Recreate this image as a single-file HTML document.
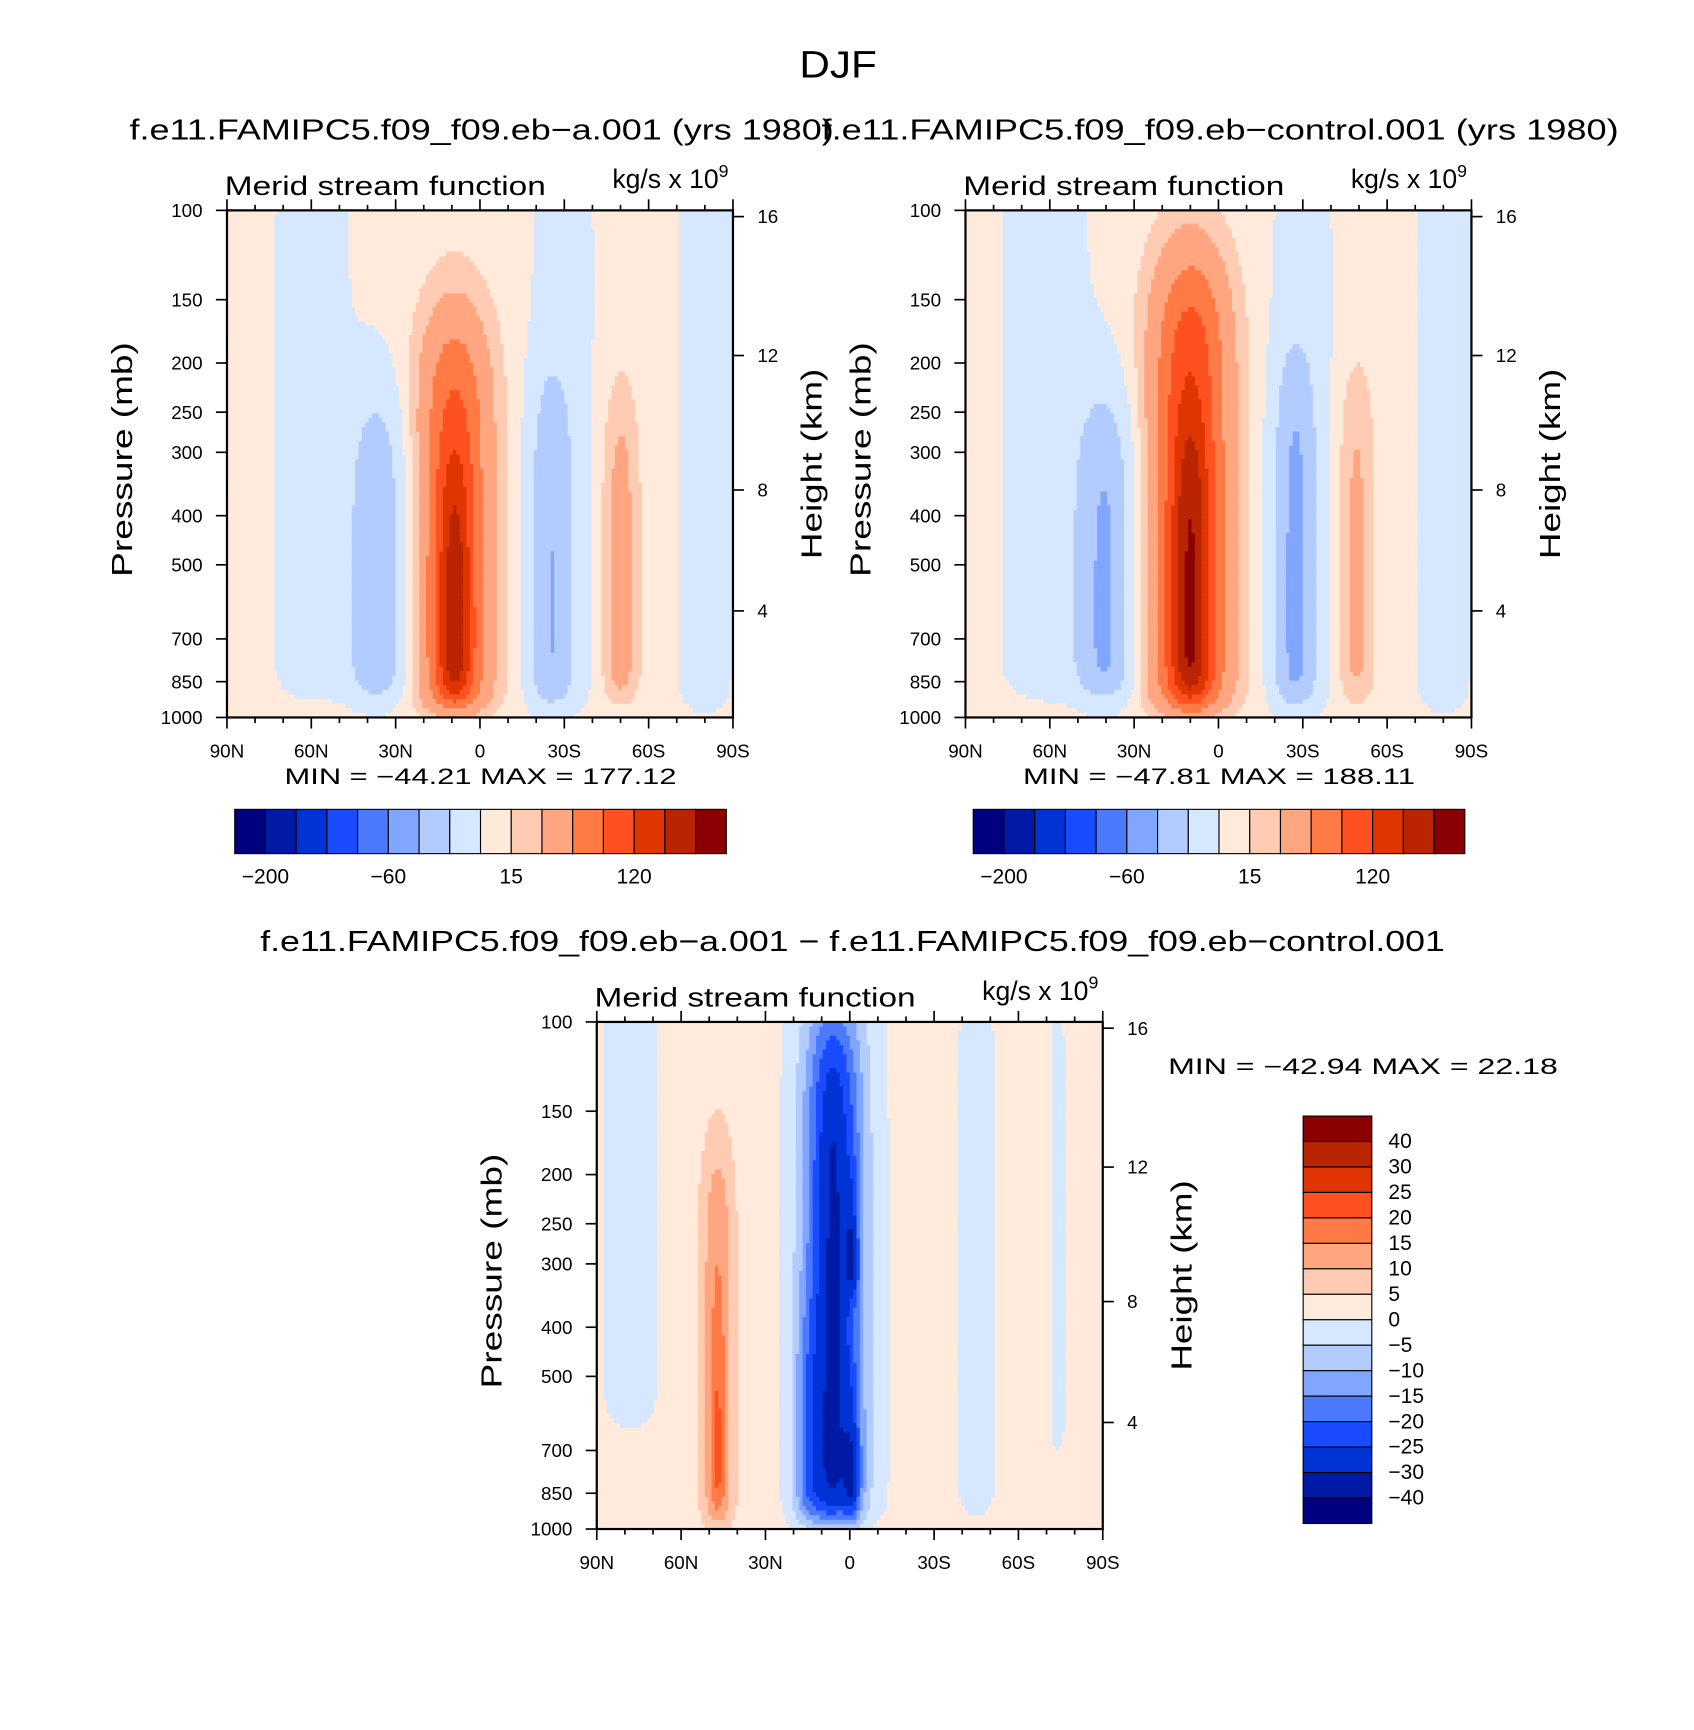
<!DOCTYPE html>
<html><head><meta charset="utf-8"><style>
html,body{margin:0;padding:0;background:#fff}
svg text{font-family:"Liberation Sans",sans-serif;fill:#000}
</style></head><body>
<svg id="fig" width="1694" height="1725" viewBox="0 0 1530 1558" xmlns="http://www.w3.org/2000/svg">
<text x="757" y="70" font-size="34" text-anchor="middle" textLength="70" lengthAdjust="spacingAndGlyphs">DJF</text>
<text x="117" y="126" font-size="26" textLength="636" lengthAdjust="spacingAndGlyphs">f.e11.FAMIPC5.f09_f09.eb−a.001 (yrs 1980)</text>
<text x="742" y="126" font-size="26" textLength="720" lengthAdjust="spacingAndGlyphs">f.e11.FAMIPC5.f09_f09.eb−control.001 (yrs 1980)</text>
<text x="235" y="859" font-size="26" textLength="1070" lengthAdjust="spacingAndGlyphs">f.e11.FAMIPC5.f09_f09.eb−a.001 − f.e11.FAMIPC5.f09_f09.eb−control.001</text>
<g id="root"></g>
</svg>
<script>
// ---- data ----
const absLevels = [-200,-150,-100,-80,-60,-40,-20,0,15,30,60,90,120,150,180];
const absLabels = ["-200","-60","15","120"];
const absLabelIdx = [1,5,9,13];
const diffLevels = [-40,-30,-25,-20,-15,-10,-5,0,5,10,15,20,25,30,40];
const diffLabels = ["40","30","25","20","15","10","5","0","−5","−10","−15","−20","−25","−30","−40"];
const colors = ["#000080","#001aa6","#0033d6","#1a4cff","#4c7aff","#80a6ff","#b3ccff","#d6e8ff","#ffeadb","#ffccb3","#ffa680","#ff7a45","#ff5020","#e03500","#b82500","#8b0000"];
const pTicks = [100,150,200,250,300,400,500,700,850,1000];
const latTicks = [90,60,30,0,-30,-60,-90];
const latTickLabels = ["90N","60N","30N","0","30S","60S","90S"];
const hTicks = [16,12,8,4];
// blobs: [lat center, lat halfwidth, top p, bottom p, amplitude]
const tlBase = 5;
const tlBlobs = [[9,13,170,960,92],[9,6,330,900,75],[36,11,240,910,-44],[60,13,70,900,-14],[-25,8,220,940,-36],[-30,12,70,940,-11],[-50,6.5,240,910,36],[-80,10,60,960,-13]];
const trBase = 5;
const trBlobs = [[10,14,130,960,110],[10,6.5,280,900,72],[40,11,240,910,-48],[62,15,60,900,-14],[-27,8,200,940,-40],[-30,12,70,940,-11],[-49,6.5,220,910,30],[-80,10,60,960,-13]];
const dfBase = 2;
const dfBlobs = [[6,10,100,960,-27],[-1,2.5,230,340,-14],[-1,3,600,950,-14],[15,5,380,950,-8],[5,16,70,960,-6],[47,6,180,970,13],[47,2.5,450,900,7],[78,10,60,620,-5],[-45,7,80,930,-5],[-74,3,80,700,-4],[-33,2,480,650,4]];
const tlStats = "MIN = −44.21   MAX = 177.12";
const trStats = "MIN = −47.81   MAX = 188.11";
const dfStats = "MIN = −42.94   MAX =  22.18";

const NS="http://www.w3.org/2000/svg";
const root=document.getElementById('root');
function mk(tag,attrs,parent){const e=document.createElementNS(NS,tag);for(const k in attrs)e.setAttribute(k,attrs[k]);(parent||root).appendChild(e);return e;}
function sig(x){return 1/(1+Math.exp(-x));}
function field(base,blobs,lat,p){
  const lp=Math.log10(p);let v=base;
  for(const b of blobs){const d=(lat-b[0])/b[1];
    v+=b[4]*Math.exp(-d*d)*sig((lp-Math.log10(b[2]))/0.07)*sig((Math.log10(b[3])-lp)/0.02);}
  return v;}
function zToP(z){z*=1000;if(z<=11000)return 1013.25*Math.pow(1-2.25577e-5*z,5.25588);return 226.32*Math.exp(-(z-11000)/6341.6);}

function panel(name,x0,y0,base,blobs,levels){
  const W=457,H=458;
  const xs=lat=>x0+(90-lat)/180*W;
  const ys=p=>y0+(Math.log10(p)-2)*H;
  const g=mk('g',{});
  
  
  const nx=150,ny=110;
  for(let j=0;j<ny;j++){
    const lp0=2+j/ny,lp1=2+(j+1)/ny,pm=Math.pow(10,(lp0+lp1)/2);
    let run=null,start=0;
    for(let i=0;i<=nx;i++){
      let c=null;
      if(i<nx){const lat=90-(i+0.5)*180/nx;const v=field(base,blobs,lat,pm);let k=0;while(k<levels.length&&v>=levels[k])k++;c=colors[k];}
      if(c!==run){
        if(run!==null){const la=90-start*180/nx,lb=90-i*180/nx;
          mk('rect',{x:xs(la),y:ys(Math.pow(10,lp0)),width:xs(lb)-xs(la)+0.6,height:ys(Math.pow(10,lp1))-ys(Math.pow(10,lp0))+0.6,fill:run},g);}
        run=c;start=i;}
    }
  }
  const f=mk('rect',{x:x0,y:y0,width:W,height:H,fill:'none',stroke:'#000','stroke-width':2});
  
  
  const ax=mk('g',{stroke:'#000','stroke-width':1.5});
  
  
  pTicks.forEach(p=>{const y=ys(p);mk('line',{x1:x0-10,x2:x0,y1:y,y2:y},ax);
    const t=mk('text',{x:x0-22,y:y+6,'font-size':17,'text-anchor':'end',stroke:'none'},ax);t.textContent=p;
    
    });
  for(let l=90;l>=-90;l-=10){const x=xs(l);const maj=l%30===0;mk('line',{x1:x,x2:x,y1:y0+H,y2:y0+H+(maj?10:5)},ax);mk('line',{x1:x,x2:x,y1:y0,y2:y0-(maj?10:5)},ax);}
  latTicks.forEach((l,i)=>{const t=mk('text',{x:xs(l),y:y0+H+36,'font-size':17,'text-anchor':'middle',stroke:'none'},ax);t.textContent=latTickLabels[i];
    
    });
  hTicks.forEach(z=>{const y=ys(zToP(z));mk('line',{x1:x0+W,x2:x0+W+10,y1:y,y2:y},ax);
    const t=mk('text',{x:x0+W+22,y:y+6,'font-size':17,stroke:'none'},ax);t.textContent=z;
    
    });
  let t=mk('text',{x:0,y:0,'font-size':26,'text-anchor':'middle',textLength:212,lengthAdjust:'spacingAndGlyphs',transform:`translate(${x0-86},${y0+H/2-4}) rotate(-90)`});t.textContent='Pressure (mb)';
  
  
  t=mk('text',{x:0,y:0,'font-size':26,'text-anchor':'middle',textLength:172,lengthAdjust:'spacingAndGlyphs',transform:`translate(${x0+W+80},${y0+H/2}) rotate(-90)`});t.textContent='Height (km)';
  
  
  t=mk('text',{x:x0-2,y:y0-14,'font-size':24,textLength:290,lengthAdjust:'spacingAndGlyphs'});t.textContent='Merid stream function';
  
  
  t=mk('text',{x:x0+W-4,y:y0-20,'font-size':24,'text-anchor':'end'});t.innerHTML='kg/s  x  10<tspan font-size="16" dy="-10">9</tspan>';
  
  
}
function hbar(name,x0,y0,stats){
  const g=mk('g',{});
  
  
  const w=444/16;
  colors.forEach((c,i)=>mk('rect',{x:x0+i*w,y:y0,width:w,height:40,fill:c,stroke:'#000','stroke-width':1},g));
  absLabels.forEach((s,i)=>{const t=mk('text',{x:x0+absLabelIdx[i]*w,y:y0+67,'font-size':19,'text-anchor':'middle'},g);t.textContent=s.replace('-','−');});
  const t=mk('text',{x:x0+45,y:y0-23,'font-size':20,textLength:354,lengthAdjust:'spacingAndGlyphs'});t.textContent=stats;
  
  
}
panel('left-panel',205,190,tlBase,tlBlobs,absLevels);
panel('right-panel',872,190,trBase,trBlobs,absLevels);
panel('diff-panel',539,923,dfBase,dfBlobs,diffLevels);
hbar('left-colorbar',212,731,tlStats);
hbar('right-colorbar',879,731,trStats);
const vb=mk('g',{});


const bh=368/16;
colors.slice().reverse().forEach((c,i)=>mk('rect',{x:1177,y:1008+i*bh,width:62,height:bh,fill:c,stroke:'#000','stroke-width':1},vb));
diffLabels.forEach((s,i)=>{const t=mk('text',{x:1254,y:1008+(i+1)*bh+6,'font-size':19},vb);t.textContent=s;});
const st=mk('text',{x:1055,y:970,'font-size':20,textLength:352,lengthAdjust:'spacingAndGlyphs'});st.textContent=dfStats;


</script>
</body></html>
